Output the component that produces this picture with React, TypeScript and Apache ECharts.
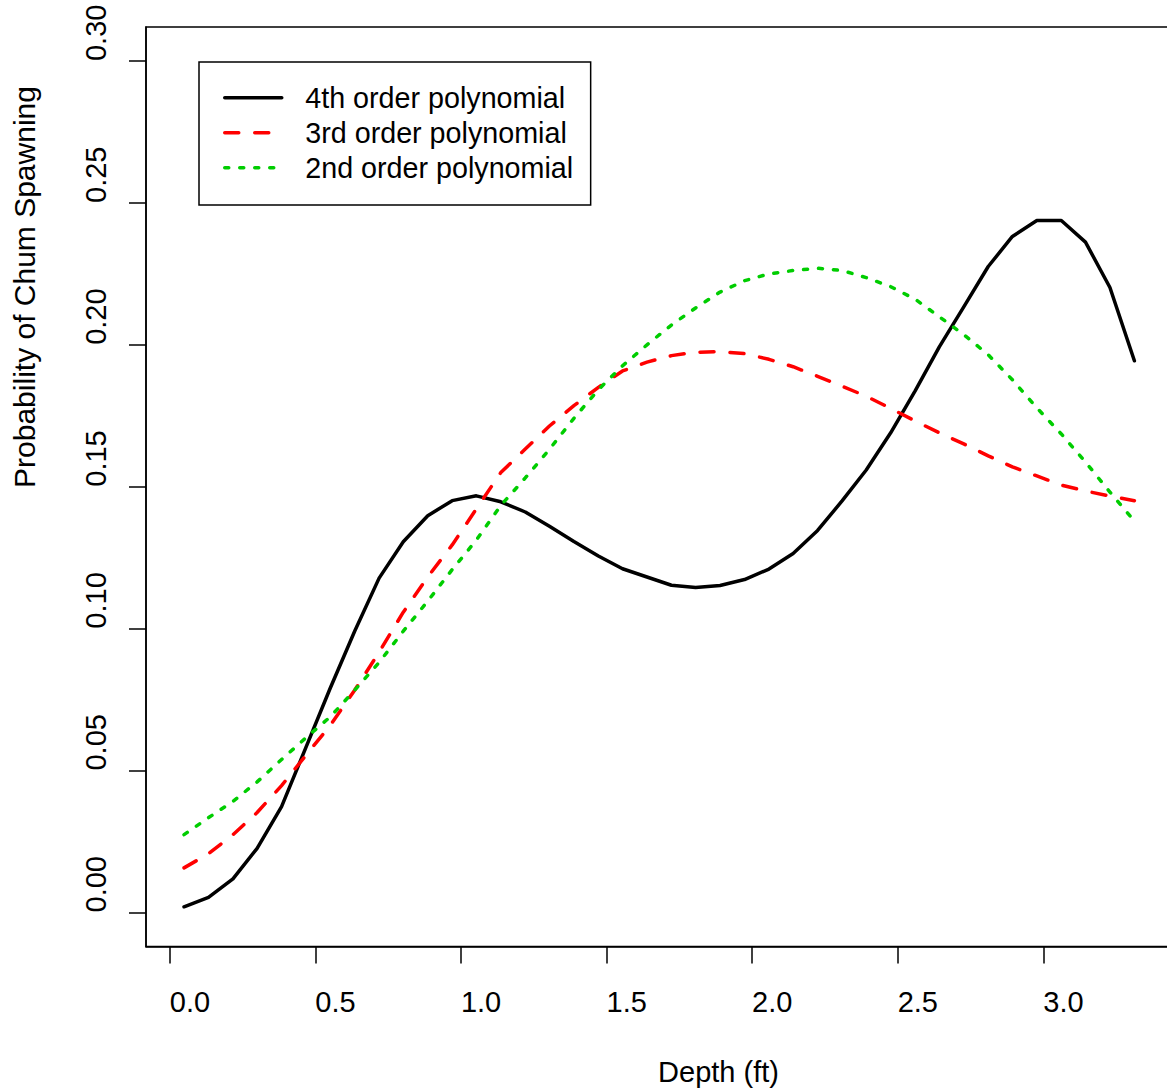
import React, { useEffect, useRef } from "react";
import * as echarts from "echarts";

const depthFt = [0.049, 0.133, 0.217, 0.300, 0.384, 0.467, 0.551, 0.635, 0.719, 0.802, 0.886, 0.970, 1.053, 1.137, 1.221, 1.304, 1.388, 1.472, 1.555, 1.639, 1.723, 1.806, 1.890, 1.974, 2.058, 2.141, 2.225, 2.309, 2.392, 2.476, 2.560, 2.643, 2.727, 2.811, 2.894, 2.978, 3.062, 3.145, 3.229, 3.313];

const poly4 = [0.0020, 0.0053, 0.0118, 0.0226, 0.0373, 0.0580, 0.0790, 0.0991, 0.1178, 0.1306, 0.1398, 0.1451, 0.1468, 0.1447, 0.1411, 0.1361, 0.1307, 0.1256, 0.1211, 0.1182, 0.1153, 0.1145, 0.1152, 0.1173, 0.1210, 0.1265, 0.1346, 0.1450, 0.1559, 0.1690, 0.1838, 0.1993, 0.2134, 0.2276, 0.2382, 0.2438, 0.2438, 0.2362, 0.2202, 0.1944];

const poly3 = [0.0157, 0.0207, 0.0274, 0.0352, 0.0447, 0.0553, 0.0659, 0.0783, 0.0917, 0.1058, 0.1182, 0.1295, 0.1422, 0.1550, 0.1633, 0.1714, 0.1786, 0.1850, 0.1908, 0.1939, 0.1962, 0.1974, 0.1976, 0.1969, 0.1949, 0.1923, 0.1889, 0.1854, 0.1819, 0.1776, 0.1732, 0.1690, 0.1651, 0.1609, 0.1570, 0.1538, 0.1506, 0.1485, 0.1467, 0.1451];

const poly2 = [0.0274, 0.0334, 0.0391, 0.0460, 0.0539, 0.0615, 0.0689, 0.0783, 0.0881, 0.0991, 0.1097, 0.1208, 0.1312, 0.1434, 0.1531, 0.1632, 0.1741, 0.1842, 0.1926, 0.2000, 0.2070, 0.2130, 0.2186, 0.2226, 0.2250, 0.2262, 0.2270, 0.2262, 0.2237, 0.2205, 0.2161, 0.2099, 0.2036, 0.1965, 0.1877, 0.1778, 0.1686, 0.1587, 0.1481, 0.1379];

const xTicks = [0, 0.5, 1.0, 1.5, 2.0, 2.5, 3.0];
const yTicks = [0, 0.05, 0.10, 0.15, 0.20, 0.25, 0.30];

const seriesNames = ["4th order polynomial", "3rd order polynomial", "2nd order polynomial"];

const FONT = "'Liberation Sans', Arial, sans-serif";

export default function App() {
  const ref = useRef<HTMLDivElement>(null);

  useEffect(() => {
    if (!ref.current) return;
    const chart = echarts.init(ref.current, null, { renderer: "svg" });
    const zip = (ys: number[]) => depthFt.map((x, i) => [x, ys[i]]);

    const axisCommon = {
      type: "value" as const,
      axisLine: { show: true, onZero: false, lineStyle: { color: "#000", width: 1.5 } },
      splitLine: { show: false },
    };

    chart.setOption({
      animation: false,
      backgroundColor: "#fff",
      grid: {
        show: true,
        left: 146,
        top: 27,
        right: -6,
        bottom: 145.5,
        borderColor: "#000",
        borderWidth: 1.5,
        containLabel: false,
        outerBoundsMode: "none",
      },
      legend: {
        orient: "vertical",
        left: 199,
        top: 62,
        itemWidth: 57,
        itemHeight: 29,
        itemGap: 6,
        padding: [21.2, 17.5, 22.8, 24],
        borderColor: "#000",
        borderWidth: 1.5,
        selectedMode: false,
        data: seriesNames,
        lineStyle: { width: 3.5 },
        itemStyle: { opacity: 0, borderWidth: 0 },
        textStyle: {
          fontSize: 28.7,
          lineHeight: 29,
          fontFamily: FONT,
          color: "#000",
          padding: [3, 0, -3, 18.5],
        },
      },
      xAxis: {
        ...axisCommon,
        min: -0.0816,
        max: 3.4456,
        axisTick: { show: true, length: 17, lineStyle: { color: "#000", width: 1.5 }, customValues: xTicks },
        axisLabel: {
          customValues: xTicks,
          formatter: (v: number) => v.toFixed(1),
          fontSize: 29,
          fontFamily: FONT,
          color: "#000",
          margin: 41,
          align: "left",
        },
      },
      yAxis: {
        ...axisCommon,
        min: -0.012,
        max: 0.312,
        axisTick: { show: true, length: 17, lineStyle: { color: "#000", width: 1.5 }, customValues: yTicks },
        axisLabel: {
          customValues: yTicks,
          formatter: (v: number) => v.toFixed(2),
          rotate: 90,
          fontSize: 29,
          fontFamily: FONT,
          color: "#000",
          margin: 35.5,
          align: "left",
        },
      },
      graphic: [
        {
          type: "text",
          x: 718.5,
          y: 1072,
          style: {
            text: "Depth (ft)",
            fontSize: 29,
            fontFamily: FONT,
            fill: "#000",
            align: "center",
            verticalAlign: "middle",
          },
        },
        {
          type: "text",
          x: 24.5,
          y: 287,
          rotation: Math.PI / 2,
          style: {
            text: "Probability of Chum Spawning",
            fontSize: 30,
            fontFamily: FONT,
            fill: "#000",
            align: "center",
            verticalAlign: "middle",
          },
        },
      ],
      series: [
        {
          name: seriesNames[0],
          type: "line",
          data: zip(poly4),
          showSymbol: false,
          symbol: "none",
          silent: true,
          lineStyle: { color: "#000000", width: 3.5, type: "solid", cap: "round", join: "round" },
          itemStyle: { color: "#000000" },
        },
        {
          name: seriesNames[1],
          type: "line",
          data: zip(poly3),
          showSymbol: false,
          symbol: "none",
          silent: true,
          lineStyle: { color: "#FF0000", width: 3.5, type: [14, 16], cap: "round", join: "round" },
          itemStyle: { color: "#FF0000" },
        },
        {
          name: seriesNames[2],
          type: "line",
          data: zip(poly2),
          showSymbol: false,
          symbol: "none",
          silent: true,
          lineStyle: { color: "#00CD00", width: 3.5, type: [4, 11], cap: "round", join: "round" },
          itemStyle: { color: "#00CD00" },
        },
      ],
    });

    return () => chart.dispose();
  }, []);

  return (
    <div
      ref={ref}
      style={{ position: "absolute", left: 0, top: 0, width: 1167, height: 1092, background: "#fff" }}
    />
  );
}
